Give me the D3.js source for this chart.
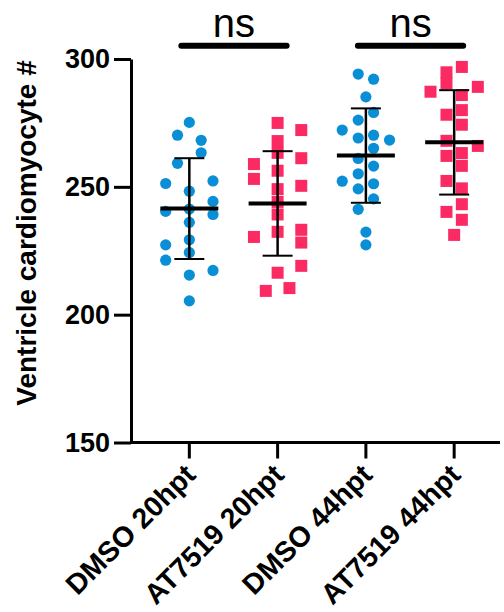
<!DOCTYPE html>
<html>
<head>
<meta charset="utf-8">
<script src="https://cdn.jsdelivr.net/npm/d3@7"></script>
<style>
  html, body { margin: 0; padding: 0; background: #fff; }
  svg { display: block; font-family: "Liberation Sans", Arial, sans-serif; }
</style>
</head>
<body>
<div id="chart"></div>
<script>
// groups on the x axis
let groups = ["DMSO 20hpt", "AT7519 20hpt", "DMSO 44hpt", "AT7519 44hpt"];

// cell counts per embryo
let dmso20 = [275.2, 270.2, 268.2, 263.3, 259.2, 251.3, 252.3, 248.3, 244.3, 240.4,
              241.3, 239.2, 236.1, 229.3, 227.3, 224.3, 221.3, 217.3, 215.5, 205.4];
let at20 = [275.0, 272.2, 267.9, 263.3, 261.2, 258.9, 256.3, 253.1, 250.4, 249.1,
            244.1, 239.2, 232.4, 230.4, 233.2, 228.2, 219.1, 216.4, 209.3, 210.4];
let dmso44 = [294.1, 292.1, 285.2, 279.1, 276.1, 272.2, 269.1, 270.2, 268.3, 265.1,
              261.1, 258.1, 255.1, 252.2, 251.2, 249.2, 245.3, 241.2, 232.3, 227.3];
let at44 = [296.9, 294.8, 290.5, 287.2, 289.1, 285.9, 280.0, 278.2, 274.3, 268.0,
            266.0, 262.1, 263.2, 258.2, 252.3, 249.4, 243.2, 240.2, 237.1, 231.2];

// scatter column of each point (as drawn by the plotting program)
let dmso20Col = [0, -1, 1, 1, -1, -2, 2, 0, 2, -2, 0, 2, 0, 0, -2, 0, -2, 2, 0, 0];
let at20Col = [0, 2, 0, 0, 2, -2, 0, -2, 2, 0, 0, 0, 0, -2, 2, 2, 2, 0, -1, 1];
let dmso44Col = [-0.65, 0.65, 0, 0.65, -0.65, -2, -0.65, 0.65, 2, 0.65,
                 -0.65, 0.65, -0.65, -2, 0.65, -0.65, 0.65, -0.65, 0, 0];
let at44Col = [0.65, -0.65, -0.65, -2, 2, 0.65, 0.65, -0.65, 0.65, -0.65,
               2, -0.65, 0.65, 0.65, -0.65, 0.65, 0.65, -0.65, 0.65, 0];

let yTicks = [150, 200, 250, 300];
let comparisons = [["DMSO 20hpt", "AT7519 20hpt", "ns"], ["DMSO 44hpt", "AT7519 44hpt", "ns"]];

let series = [
    { name: groups[0], values: dmso20, cols: dmso20Col, shape: "circle" },
    { name: groups[1], values: at20, cols: at20Col, shape: "square" },
    { name: groups[2], values: dmso44, cols: dmso44Col, shape: "circle" },
    { name: groups[3], values: at44, cols: at44Col, shape: "square" }
];

let blue = "#0a8fd6", pink = "#fb2a63";
let width = 504, height = 612;

let svg = d3.select("#chart").append("svg")
    .attr("width", width)
    .attr("height", height);

let x = d3.scalePoint()
    .domain(groups)
    .range([131, 500])
    .padding(0.59)
    .align(0.56);

let y = d3.scaleLinear()
    .domain([150, 300])
    .range([442.5, 59]);

let colStep = x.step() * 0.134;

// Y axis
let yAxis = svg.append("g")
    .attr("transform", "translate(131,0)")
    .call(d3.axisLeft(y).tickValues(yTicks).tickSize(17).tickSizeOuter(0).tickPadding(4));
yAxis.select(".domain").attr("stroke-width", 3);
yAxis.selectAll(".tick line").attr("stroke-width", 3);
yAxis.selectAll(".tick text")
    .attr("fill", "#000")
    .style("font-size", "27px")
    .style("font-weight", "bold");

// X axis line + ticks
let xAxis = svg.append("g")
    .attr("transform", "translate(0," + y(150) + ")");
xAxis.append("line")
    .attr("x1", 131).attr("x2", 500)
    .attr("stroke", "#000").attr("stroke-width", 3);
xAxis.selectAll(".xtick")
    .data(groups)
    .enter()
    .append("line")
    .attr("x1", function (d) { return x(d) })
    .attr("x2", function (d) { return x(d) })
    .attr("y1", 0).attr("y2", 16)
    .attr("stroke", "#000").attr("stroke-width", 3);
xAxis.selectAll(".xlab")
    .data(groups)
    .enter()
    .append("text")
    .attr("transform", function (d) { return "translate(" + (x(d) + 8) + ",34) rotate(-45)" })
    .attr("text-anchor", "end")
    .style("font-size", "28.5px")
    .style("font-weight", "bold")
    .text(function (d) { return d });

// Y title
svg.append("text")
    .attr("transform", "translate(36,233) rotate(-90)")
    .attr("text-anchor", "middle")
    .style("font-size", "28px")
    .style("font-weight", "bold")
    .text("Ventricle cardiomyocyte #");

// points
series.forEach(function (s) {
    let pts = s.values.map(function (v, i) {
        return { x: x(s.name) + s.cols[i] * colStep, y: y(v) };
    });
    if (s.shape === "circle") {
        svg.append("g").selectAll("circle")
            .data(pts)
            .enter()
            .append("circle")
            .attr("cx", function (d) { return d.x })
            .attr("cy", function (d) { return d.y })
            .attr("r", 5.6)
            .attr("fill", blue);
    } else {
        svg.append("g").selectAll("rect")
            .data(pts)
            .enter()
            .append("rect")
            .attr("x", function (d) { return d.x - 6 })
            .attr("y", function (d) { return d.y - 6 })
            .attr("width", 12)
            .attr("height", 12)
            .attr("fill", pink);
    }
});

// mean and SD
series.forEach(function (s) {
    let m = d3.mean(s.values), sd = d3.deviation(s.values);
    let cx = x(s.name);
    let g = svg.append("g").attr("stroke", "#000");
    g.append("line")
        .attr("x1", cx).attr("x2", cx)
        .attr("y1", y(m + sd)).attr("y2", y(m - sd))
        .attr("stroke-width", 2.5);
    [m + sd, m - sd].forEach(function (v) {
        g.append("line")
            .attr("x1", cx - 15).attr("x2", cx + 15)
            .attr("y1", y(v)).attr("y2", y(v))
            .attr("stroke-width", 2);
    });
    g.append("line")
        .attr("x1", cx - 29).attr("x2", cx + 29)
        .attr("y1", y(m)).attr("y2", y(m))
        .attr("stroke-width", 4);
});

// significance bars
comparisons.forEach(function (c) {
    let x1 = x(c[0]) - 8, x2 = x(c[1]) + 9;
    svg.append("line")
        .attr("x1", x1).attr("x2", x2)
        .attr("y1", 45.7).attr("y2", 45.7)
        .attr("stroke", "#000")
        .attr("stroke-width", 6)
        .attr("stroke-linecap", "round");
    svg.append("text")
        .attr("x", (x1 + x2) / 2)
        .attr("y", 37)
        .attr("text-anchor", "middle")
        .style("font-size", "40px")
        .text(c[2]);
});
</script>
</body>
</html>
